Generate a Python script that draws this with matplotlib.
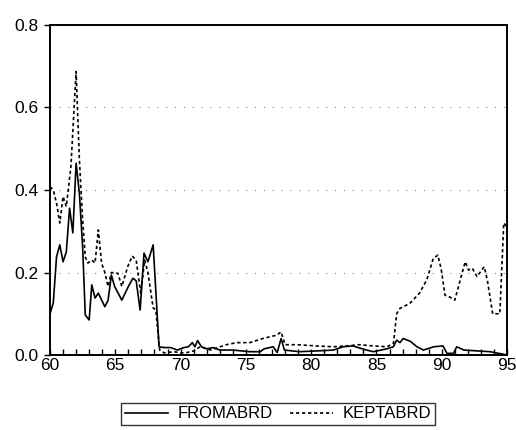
import numpy as np
import matplotlib
matplotlib.use("Agg")
import matplotlib.pyplot as plt
from matplotlib.ticker import MultipleLocator, FuncFormatter

plt.rcParams['font.family'] = ['Liberation Sans', 'DejaVu Sans']

# FROMABRD (linea continua): anio, valor
from_year = [1960.0, 1960.25, 1960.5, 1960.75, 1961.0, 1961.25, 1961.5, 1961.75,
             1962.0, 1962.25, 1962.5, 1962.7, 1963.0, 1963.2, 1963.45, 1963.7,
             1964.2, 1964.45, 1964.7, 1964.95, 1965.5, 1966.0, 1966.35, 1966.6,
             1966.9, 1967.2, 1967.5, 1967.9, 1968.35, 1968.75, 1969.25, 1969.75,
             1970.25, 1970.6, 1970.9, 1971.1, 1971.3, 1971.6, 1972.0, 1972.5,
             1973.0, 1974.0, 1975.3, 1976.1, 1976.4, 1977.1, 1977.4, 1977.7,
             1977.95, 1979.1, 1980.5, 1981.7, 1982.45, 1983.2, 1983.6, 1984.25,
             1984.75, 1985.8, 1986.3, 1986.55, 1986.8, 1987.05, 1987.6, 1988.1,
             1988.6, 1989.4, 1990.1, 1990.4, 1990.9, 1991.15, 1991.7, 1992.7,
             1993.7, 1994.7, 1995.0]
from_val = [0.10, 0.126, 0.238, 0.267, 0.226, 0.25, 0.356, 0.296,
            0.465, 0.392, 0.262, 0.097, 0.085, 0.17, 0.138, 0.15,
            0.117, 0.133, 0.194, 0.166, 0.133, 0.166, 0.186, 0.18,
            0.109, 0.247, 0.226, 0.267, 0.02, 0.018, 0.018, 0.012,
            0.018, 0.02, 0.03, 0.02, 0.035, 0.02, 0.015, 0.018,
            0.012, 0.012, 0.008, 0.008, 0.015, 0.02, 0.006, 0.04,
            0.012, 0.008, 0.01, 0.012, 0.02, 0.022, 0.018, 0.012,
            0.008, 0.015, 0.02, 0.036, 0.03, 0.04, 0.033, 0.02,
            0.012, 0.02, 0.022, 0.004, 0.004, 0.02, 0.012, 0.01,
            0.008, 0.002, 0.0]

# KEPTABRD (linea punteada): anio, valor
kept_year = [1960.0, 1960.25, 1960.5, 1960.75, 1961.0, 1961.25, 1961.6, 1962.0,
             1962.25, 1962.5, 1962.7, 1962.9, 1963.2, 1963.45, 1963.7, 1963.95,
             1964.2, 1964.45, 1964.7, 1965.2, 1965.5, 1965.95, 1966.3, 1966.6,
             1966.95, 1967.25, 1967.5, 1967.9, 1968.1, 1968.4, 1968.75, 1969.5,
             1970.0, 1970.5, 1971.0, 1971.5, 1972.3, 1973.5, 1974.3, 1975.3,
             1976.3, 1977.35, 1977.7, 1978.0, 1978.9, 1980.4, 1981.7, 1982.7,
             1983.7, 1984.75, 1985.8, 1986.3, 1986.55, 1986.8, 1987.55, 1988.3,
             1988.85, 1989.35, 1989.7, 1989.95, 1990.25, 1990.65, 1991.0, 1991.4,
             1991.8, 1992.05, 1992.35, 1992.7, 1993.25, 1993.5, 1993.9, 1994.45,
             1994.75, 1995.0]
kept_val = [0.408, 0.40, 0.368, 0.32, 0.384, 0.36, 0.456, 0.687,
            0.473, 0.327, 0.238, 0.223, 0.23, 0.223, 0.303, 0.223,
            0.2, 0.166, 0.2, 0.198, 0.166, 0.214, 0.24, 0.23,
            0.15, 0.23, 0.2, 0.114, 0.11, 0.012, 0.005, 0.008,
            0.005, 0.006, 0.01, 0.02, 0.012, 0.025, 0.03, 0.03,
            0.04, 0.048, 0.056, 0.025, 0.025, 0.022, 0.02, 0.022,
            0.025, 0.022, 0.02, 0.028, 0.10, 0.113, 0.125, 0.15,
            0.182, 0.234, 0.242, 0.21, 0.145, 0.14, 0.133, 0.18,
            0.226, 0.206, 0.21, 0.19, 0.214, 0.18, 0.10, 0.10,
            0.32, 0.31]

fig = plt.figure(figsize=(5.16, 4.30), dpi=100)
ax = fig.add_axes([0.0969, 0.1744, 0.8857, 0.7675])

# rejilla punteada tenue
for yv in [0.2, 0.4, 0.6]:
    ax.axhline(yv, color="#888888", lw=0.8, linestyle=(0, (1, 7)), zorder=0)

ax.plot(from_year, from_val, color="black", lw=1.2, label="FROMABRD")
ax.plot(kept_year, kept_val, color="black", lw=1.2, linestyle=(0, (2, 1.6)),
        label="KEPTABRD")

ax.set_xlim(1960, 1995)
ax.set_ylim(0, 0.8)
ax.xaxis.set_major_locator(MultipleLocator(5))
ax.xaxis.set_minor_locator(MultipleLocator(1))
ax.xaxis.set_major_formatter(FuncFormatter(lambda v, p: f"{int(v) % 100:02d}"))
ax.yaxis.set_major_locator(MultipleLocator(0.2))
ax.yaxis.set_major_formatter(FuncFormatter(lambda v, p: f"{v:.1f}"))

ax.tick_params(axis="x", which="both", direction="in", length=4, width=1,
               labelsize=12.5, pad=2)
ax.tick_params(axis="y", direction="out", length=4, width=1, labelsize=12.5, pad=4)
for s in ax.spines.values():
    s.set_linewidth(1.4)

fig.legend(loc="center", bbox_to_anchor=(278 / 516, 1 - 414 / 430), ncol=2,
           frameon=True, fancybox=False, edgecolor="black", fontsize=12,
           handlelength=2.6, columnspacing=1.0, handletextpad=0.6,
           borderpad=0.2, borderaxespad=0)

fig.savefig("out.png", dpi=100)
